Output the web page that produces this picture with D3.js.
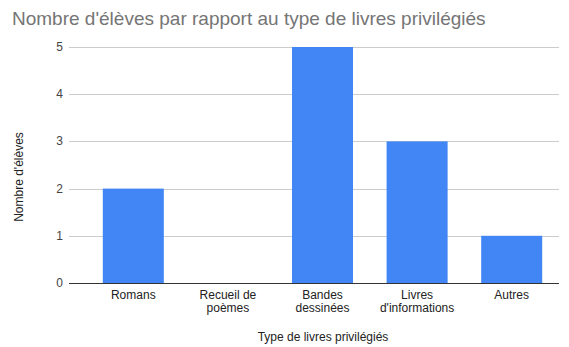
<!DOCTYPE html>
<html><head><meta charset="utf-8">
<script src="https://cdn.jsdelivr.net/npm/d3@7"></script>
<style>body{margin:0;background:#fff;}svg{display:block;font-family:Arial,"Liberation Sans",sans-serif;}</style>
</head><body>
<svg id="c" width="569" height="347"></svg>
<script>
const categories = [["Romans"], ["Recueil de","poèmes"], ["Bandes","dessinées"], ["Livres","d'informations"], ["Autres"]];
const values = [2, 0, 5, 3, 1];
const yTicks = [0, 1, 2, 3, 4, 5];
const title = "Nombre d'élèves par rapport au type de livres privilégiés";
const xTitle = "Type de livres privilégiés";
const yTitle = "Nombre d'élèves";

const svg = d3.select("#c");
const keys = categories.map((c,i)=>i);
const x = d3.scaleBand().domain(keys).range([86, 559]).paddingInner(0.355).paddingOuter(0.1775);
const y = d3.scaleLinear().domain([0,5]).range([283, 47]);

svg.append("text").attr("x",12).attr("y",25).attr("font-size",19).attr("fill","#757575").text(title);

// gridlines
svg.append("g").selectAll("line").data(yTicks.filter(d=>d>0)).join("line")
  .attr("x1",69).attr("x2",559).attr("y1",d=>Math.round(y(d))+0.5).attr("y2",d=>Math.round(y(d))+0.5)
  .attr("stroke","#cccccc").attr("stroke-width",1);

svg.append("g").selectAll("text").data(yTicks).join("text")
  .attr("x",63).attr("y",d=>y(d)+4).attr("text-anchor","end").attr("font-size",12).attr("fill","#444").text(d=>d);

// bars
svg.append("g").selectAll("rect").data(values).join("rect")
  .attr("x",(d,i)=>x(i)).attr("width",x.bandwidth())
  .attr("y",d=>y(d)).attr("height",d=>y(0)-y(d)).attr("fill","#4285f4");

// baseline
svg.append("line").attr("x1",69).attr("x2",559).attr("y1",283.5).attr("y2",283.5).attr("stroke","#333").attr("stroke-width",1);

// x labels (one text per line)
categories.forEach((lines, i) => {
  svg.append("g").selectAll("text").data(lines).join("text")
    .attr("x", x(i) + x.bandwidth()/2)
    .attr("y", (d, j) => 298.5 + j * 13.5)
    .attr("text-anchor","middle").attr("font-size",12).attr("fill","#222").text(d=>d);
});

svg.append("text").attr("x",323).attr("y",341).attr("text-anchor","middle").attr("font-size",12).attr("fill","#222").text(xTitle);
svg.append("text").attr("transform","translate(23,177) rotate(-90)").attr("text-anchor","middle").attr("font-size",12).attr("fill","#222").text(yTitle);
</script>
</body></html>
